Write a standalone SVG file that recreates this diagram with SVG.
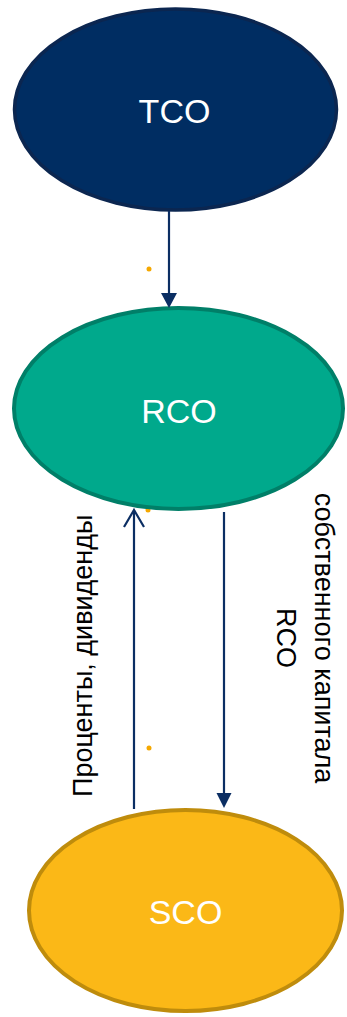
<svg xmlns="http://www.w3.org/2000/svg" width="347" height="1017" viewBox="0 0 347 1017">
<style>
.lbl{font-family:"Liberation Sans",Arial,sans-serif;font-size:34px;fill:#ffffff;text-anchor:middle}
.side{font-family:"Liberation Sans",Arial,sans-serif;font-size:27px;fill:#000000}
.conn{stroke:#0b2e63;stroke-width:2.2;fill:none}
.dot{fill:#f5a800}
</style>
<rect width="347" height="1017" fill="#ffffff"/>
<circle class="dot" cx="148" cy="510" r="2.5"/>
<g id="TCO">
<ellipse cx="175.5" cy="109.5" rx="161" ry="100.5" fill="#002d62" stroke="#0b2650" stroke-width="3.5"/>
<text class="lbl" x="174.5" y="122.5">TCO</text>
</g>
<g id="RCO">
<ellipse cx="178.5" cy="408.5" rx="164.5" ry="100.5" fill="#00a98c" stroke="#007f68" stroke-width="4"/>
<text class="lbl" x="179" y="422.5">RCO</text>
</g>
<g id="SCO">
<ellipse cx="185.5" cy="910.5" rx="156.5" ry="100.5" fill="#fbb817" stroke="#bf8c0c" stroke-width="4"/>
<text class="lbl" x="185.5" y="924">SCO</text>
</g>
<g id="connectors">
<line class="conn" x1="169" y1="211" x2="169" y2="294"/>
<path d="M161,293 L177,293 L169,308 Z" fill="#0b2e63"/>
<line class="conn" x1="134" y1="809" x2="134" y2="510"/>
<path class="conn" d="M124,527 L134,510 L144,527"/>
<line class="conn" x1="224" y1="512" x2="224" y2="794"/>
<path d="M216.5,793 L231.5,793 L224,808 Z" fill="#0b2e63"/>
</g>
<g id="labels">
<text class="side" transform="translate(92,797) rotate(-90)">Проценты, дивиденды</text>
<text class="side" text-anchor="middle" transform="translate(315,638) rotate(90)">собственного капитала</text>
<text class="side" text-anchor="middle" transform="translate(277,638) rotate(90)">RCO</text>
</g>
<circle class="dot" cx="149" cy="269" r="2.5"/>
<circle class="dot" cx="149" cy="748" r="2.5"/>
</svg>
